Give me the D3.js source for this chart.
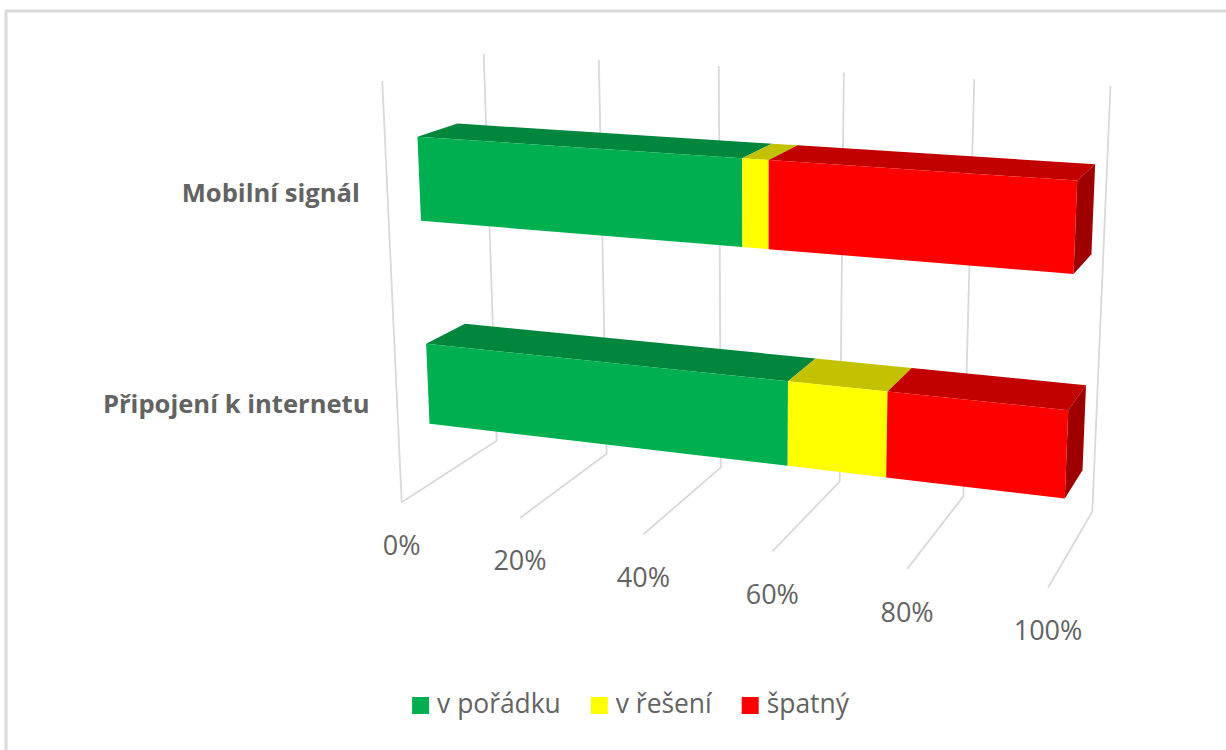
<!DOCTYPE html>
<html>
<head>
<meta charset="utf-8">
<script src="https://cdn.jsdelivr.net/npm/d3@7"></script>
<style>
  body { margin: 0; background: #fff; }
  text { font-family: "Open Sans", Lato, sans-serif; fill: #636363; }
</style>
</head>
<body>
<svg id="chart" width="1226" height="750"></svg>
<script>
const categories = ['Připojení k internetu', 'Mobilní signál'];
const seriesNames = ['v pořádku', 'v řešení', 'špatný'];
const okValues = [59, 52];
const pendingValues = [15, 4];
const badValues = [26, 44];
const seriesValues = [okValues, pendingValues, badValues];
const seriesColors = ['#00b050', '#ffff00', '#ff0000'];
const axisTicks = [0, 20, 40, 60, 80, 100];

// camera: where the chart box corners land on screen, plus perspective weights
const origin = [496.7, 440.7];
const valueEnd = [1092.3, 511.7];
const depthEnd = [401.7, 502.3];
const heightEnd = [483.7, 54];
const weightValue = 0.905;
const weightDepth = 0.915;
const weightHeight = 0.953;

const svg = d3.select('#chart');

// scales go to the unit box, project() takes the unit box to the screen
const xScale = d3.scaleLinear().domain([0, 100]).range([0, 1]);
const bandScale = d3.scaleBand().domain(categories).range([0, 1]).paddingInner(0.6).paddingOuter(0.3);
const depthScale = d3.scaleBand().domain(['bars']).range([0, 1]).padding(3 / 7);

function project(u, v, h) {
  const w = 1 + u * (weightValue - 1) + v * (weightDepth - 1) + h * (weightHeight - 1);
  const coord = (i) => origin[i]
    + u * (weightValue * valueEnd[i] - origin[i])
    + v * (weightDepth * depthEnd[i] - origin[i])
    + h * (weightHeight * heightEnd[i] - origin[i]);
  return [coord(0) / w, coord(1) / w];
}

const line = d3.line();

function shade(color, k) {
  const c = d3.rgb(color);
  return d3.rgb(c.r * k, c.g * k, c.b * k).formatHex();
}

// frame of the chart area
svg.append('rect')
  .attr('x', 6)
  .attr('y', 11)
  .attr('width', 1300)
  .attr('height', 800)
  .attr('fill', '#fff')
  .attr('stroke', '#d9d9d9')
  .attr('stroke-width', 3);

// gridlines: side edge at 0, then floor + back wall for each tick
const grid = svg.append('g')
  .attr('fill', 'none')
  .attr('stroke', '#d9d9d9')
  .attr('stroke-width', 1.8);

grid.append('path')
  .attr('d', line([project(0, 1, 1), project(0, 1, 0)]));

grid.selectAll('path.tick')
  .data(axisTicks)
  .enter()
  .append('path')
  .attr('class', 'tick')
  .attr('d', (d) => {
    const u = xScale(d);
    return line([project(u, 1, 0), project(u, 0, 0), project(u, 0, 1)]);
  });

// stacked bars
const front = depthScale('bars') + depthScale.bandwidth();
const back = depthScale('bars');

categories.forEach((category, i) => {
  const bottom = bandScale(category);
  const top = bottom + bandScale.bandwidth();
  const group = svg.append('g').attr('class', 'bar');
  let start = 0;

  seriesValues.forEach((values, s) => {
    const u0 = xScale(start);
    const u1 = xScale(start + values[i]);
    start += values[i];

    group.append('path')
      .attr('fill', shade(seriesColors[s], 0.76))
      .attr('d', line([project(u0, front, top), project(u1, front, top), project(u1, back, top), project(u0, back, top)]) + 'Z');

    if (s === seriesValues.length - 1) {
      group.append('path')
        .attr('fill', shade(seriesColors[s], 0.62))
        .attr('d', line([project(u1, front, top), project(u1, back, top), project(u1, back, bottom), project(u1, front, bottom)]) + 'Z');
    }

    group.append('path')
      .attr('fill', seriesColors[s])
      .attr('d', line([project(u0, front, top), project(u1, front, top), project(u1, front, bottom), project(u0, front, bottom)]) + 'Z');
  });
});

// value axis labels
svg.append('g')
  .selectAll('text')
  .data(axisTicks)
  .enter()
  .append('text')
  .attr('x', (d) => project(xScale(d), 1, 0)[0])
  .attr('y', (d) => project(xScale(d), 1, 0)[1] + 52.5)
  .attr('text-anchor', 'middle')
  .attr('font-size', 27)
  .text((d) => d + '%');

// category labels
svg.append('g')
  .selectAll('text')
  .data(categories)
  .enter()
  .append('text')
  .attr('x', (d) => project(0, 1, bandScale(d) + bandScale.bandwidth() / 2)[0] - 27.5)
  .attr('y', (d) => project(0, 1, bandScale(d) + bandScale.bandwidth() / 2)[1] + 11.5)
  .attr('text-anchor', 'end')
  .attr('font-size', 25.6)
  .attr('font-weight', 700)
  .text((d) => d);

// legend
const legend = svg.append('g').attr('class', 'legend');
const swatchSize = 17;
let legendX = 0;
seriesNames.forEach((name, s) => {
  const item = legend.append('g').attr('transform', `translate(${legendX},0)`);
  item.append('rect')
    .attr('y', -16)
    .attr('width', swatchSize)
    .attr('height', swatchSize)
    .attr('fill', seriesColors[s]);
  const label = item.append('text')
    .attr('x', swatchSize + 8)
    .attr('font-size', 26.4)
    .text(name);
  legendX += swatchSize + 8 + label.node().getComputedTextLength() + 30;
});
const legendWidth = legendX - 30;
legend.attr('transform', `translate(${630.5 - legendWidth / 2},713)`);
</script>
</body>
</html>
